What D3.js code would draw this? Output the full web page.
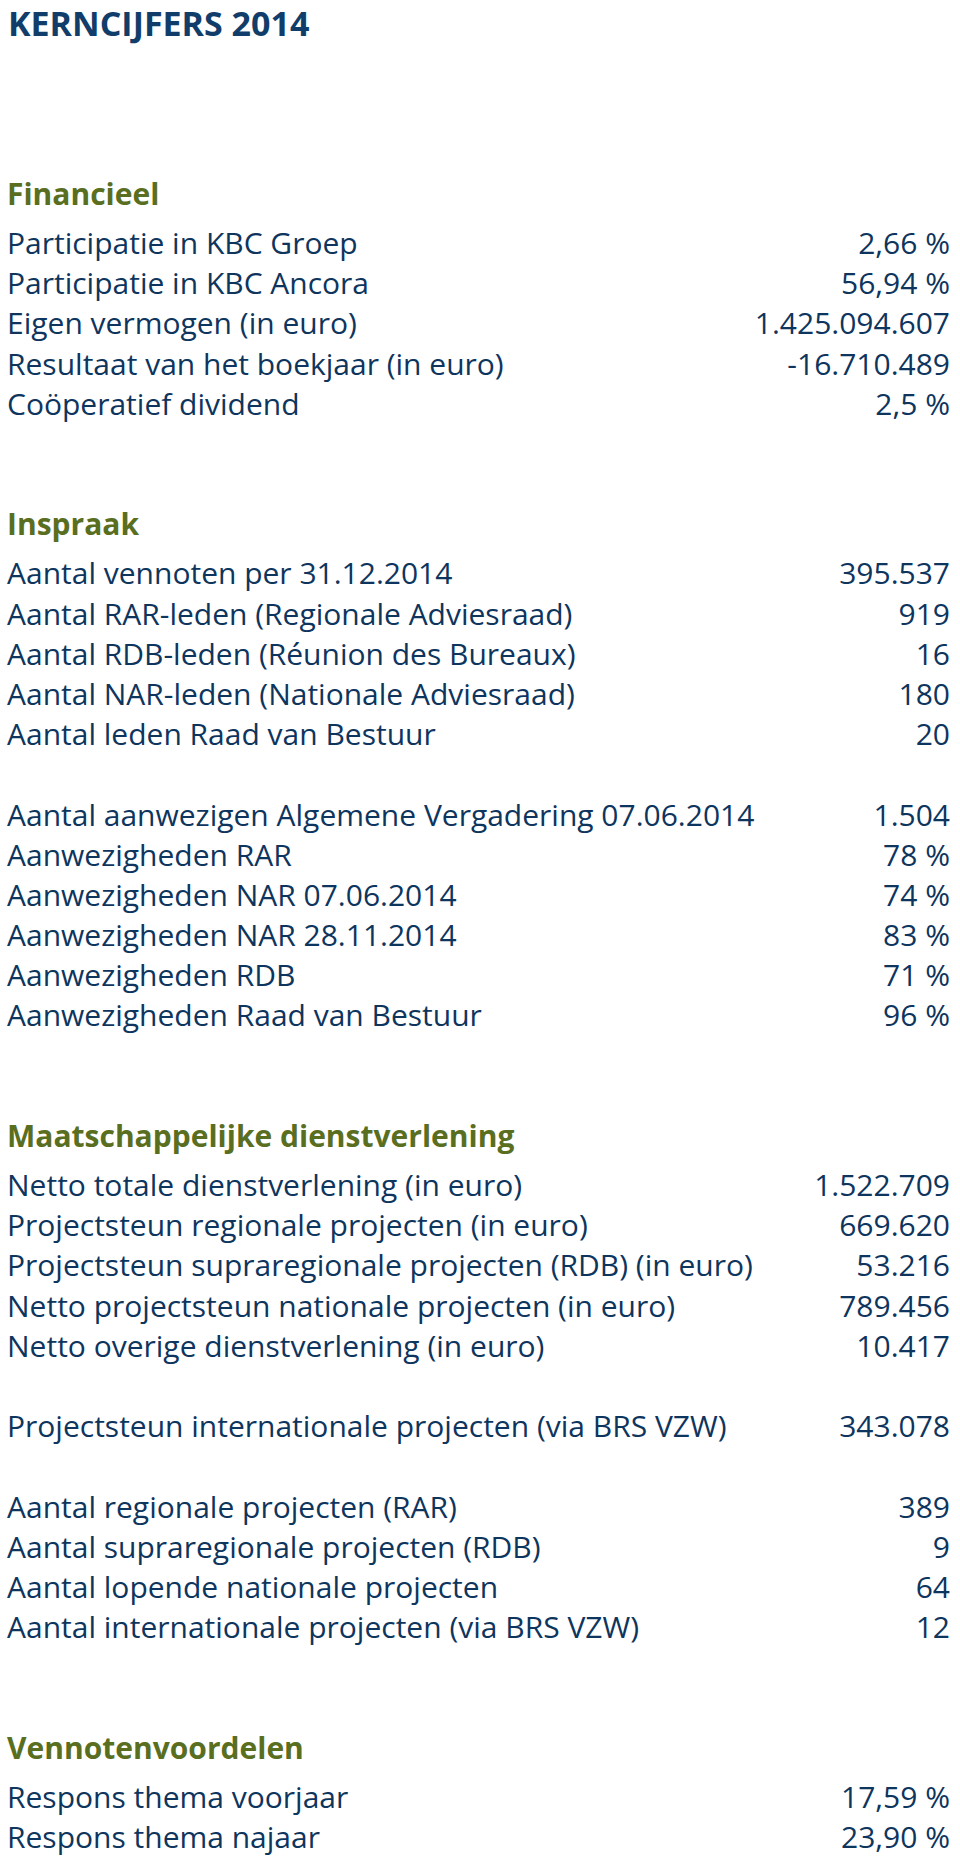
<!DOCTYPE html>
<html>
<head>
<meta charset="utf-8">
<script src="https://cdn.jsdelivr.net/npm/d3@7"></script>
<style>
  html, body { margin: 0; padding: 0; background: #ffffff; }
  svg { display: block; }
</style>
</head>
<body>
<div id="chart"></div>
<script>
const pageTitle = "KERNCIJFERS 2014";
const sectionTitles = ["Financieel", "Inspraak", "Maatschappelijke dienstverlening", "Vennotenvoordelen"];

const financieelLabels = [
  "Participatie in KBC Groep",
  "Participatie in KBC Ancora",
  "Eigen vermogen (in euro)",
  "Resultaat van het boekjaar (in euro)",
  "Coöperatief dividend"
];
const financieelValues = ["2,66 %", "56,94 %", "1.425.094.607", "-16.710.489", "2,5 %"];

const inspraakLabelsA = [
  "Aantal vennoten per 31.12.2014",
  "Aantal RAR-leden (Regionale Adviesraad)",
  "Aantal RDB-leden (Réunion des Bureaux)",
  "Aantal NAR-leden (Nationale Adviesraad)",
  "Aantal leden Raad van Bestuur"
];
const inspraakValuesA = ["395.537", "919", "16", "180", "20"];

const inspraakLabelsB = [
  "Aantal aanwezigen Algemene Vergadering 07.06.2014",
  "Aanwezigheden RAR",
  "Aanwezigheden NAR 07.06.2014",
  "Aanwezigheden NAR 28.11.2014",
  "Aanwezigheden RDB",
  "Aanwezigheden Raad van Bestuur"
];
const inspraakValuesB = ["1.504", "78 %", "74 %", "83 %", "71 %", "96 %"];

const dienstLabelsA = [
  "Netto totale dienstverlening (in euro)",
  "Projectsteun regionale projecten (in euro)",
  "Projectsteun supraregionale projecten (RDB) (in euro)",
  "Netto projectsteun nationale projecten (in euro)",
  "Netto overige dienstverlening (in euro)"
];
const dienstValuesA = ["1.522.709", "669.620", "53.216", "789.456", "10.417"];

const dienstLabelsB = ["Projectsteun internationale projecten (via BRS VZW)"];
const dienstValuesB = ["343.078"];

const dienstLabelsC = [
  "Aantal regionale projecten (RAR)",
  "Aantal supraregionale projecten (RDB)",
  "Aantal lopende nationale projecten",
  "Aantal internationale projecten (via BRS VZW)"
];
const dienstValuesC = ["389", "9", "64", "12"];

const vennotenLabels = ["Respons thema voorjaar", "Respons thema najaar"];
const vennotenValues = ["17,59 %", "23,90 %"];

// ---- structure built from the arrays above ----
const sections = [
  { title: sectionTitles[0], groups: [[financieelLabels, financieelValues]] },
  { title: sectionTitles[1], groups: [[inspraakLabelsA, inspraakValuesA], [inspraakLabelsB, inspraakValuesB]] },
  { title: sectionTitles[2], groups: [[dienstLabelsA, dienstValuesA], [dienstLabelsB, dienstValuesB], [dienstLabelsC, dienstValuesC]] },
  { title: sectionTitles[3], groups: [[vennotenLabels, vennotenValues]] }
];

// slot layout: header, then rows; blank slot between groups; two extra between sections
const HEADER_GAP = 1.22;
const headers = [];
const rows = [];
let slot = -HEADER_GAP;
sections.forEach((sec) => {
  headers.push({ text: sec.title, slot: slot });
  slot += HEADER_GAP;
  sec.groups.forEach((g, gi) => {
    g[0].forEach((lab, i) => {
      rows.push({ label: lab, value: g[1][i], slot: slot });
      slot += 1;
    });
    if (gi < sec.groups.length - 1) slot += 1;
  });
  slot += 2;
});

const W = 960, H = 1860;
const NAVY = "#0e355d";
const TITLE_BLUE = "#113d6a";
const GREEN = "#5a6e1f";
const FONT = "'Open Sans', 'Noto Sans', sans-serif";
const FS = 30;

const y = d3.scaleLinear().domain([0, 1]).range([254, 294.19]);
const x = d3.scaleLinear().domain([0, 1]).range([7, 950]);

const svg = d3.select("#chart").append("svg")
  .attr("width", W).attr("height", H)
  .attr("viewBox", `0 0 ${W} ${H}`);

svg.append("rect").attr("width", W).attr("height", H).attr("fill", "#fff");

svg.append("text")
  .attr("x", x(0) + 1).attr("y", 36)
  .attr("font-family", FONT).attr("font-weight", 700)
  .attr("font-size", 34).attr("fill", TITLE_BLUE)
  .text(pageTitle);

svg.selectAll("text.header").data(headers).join("text")
  .attr("class", "header")
  .attr("x", x(0)).attr("y", d => y(d.slot))
  .attr("font-family", FONT).attr("font-weight", 700)
  .attr("font-size", FS).attr("fill", GREEN)
  .text(d => d.text);

svg.selectAll("text.label").data(rows).join("text")
  .attr("class", "label")
  .attr("x", x(0)).attr("y", d => y(d.slot))
  .attr("font-family", FONT).attr("font-weight", 400)
  .attr("font-size", FS).attr("fill", NAVY)
  .text(d => d.label);

svg.selectAll("text.value").data(rows).join("text")
  .attr("class", "value")
  .attr("x", x(1)).attr("y", d => y(d.slot))
  .attr("text-anchor", "end")
  .attr("font-family", FONT).attr("font-weight", 400)
  .attr("font-size", FS).attr("fill", NAVY)
  .text(d => d.value);
</script>
</body>
</html>
